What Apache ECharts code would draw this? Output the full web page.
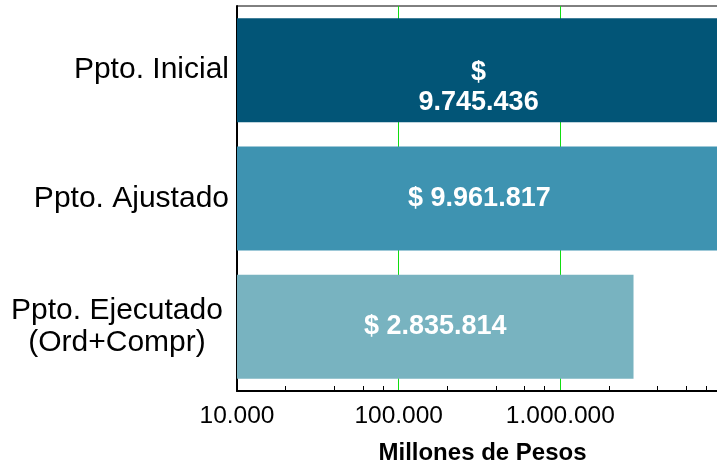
<!DOCTYPE html>
<html>
<head>
<meta charset="utf-8">
<script src="https://cdn.jsdelivr.net/npm/echarts@6/dist/echarts.min.js"></script>
<style>
html, body { margin: 0; padding: 0; background: #fff; }
#chart { width: 717px; height: 465px; }
</style>
</head>
<body>
<div id="chart"></div>
<script>
// presupuesto, en millones de pesos
const categories = ['Ppto. Inicial', 'Ppto. Ajustado', 'Ppto. Ejecutado\n(Ord+Compr)']
const values = [9745436, 9961817, 2835814]
const barColors = ['#025577', '#3e93b1', '#78b3c0']
const minorTicks = [2e4, 4e4, 6e4, 8e4, 2e5, 4e5, 6e5, 8e5, 2e6, 4e6, 6e6, 8e6]

const font = 'Liberation Sans, Arial, sans-serif'

function fmt(v) {
    return String(v).replace(/\B(?=(\d{3})+(?!\d))/g, '.')
}

let data = values.map(function (v, i) {
    let item = {
        value: v,
        itemStyle: { color: barColors[i] }
    }
    if (i === 0) {
        // en el original la etiqueta sale partida en dos lineas
        item.label = { formatter: '$\n' + fmt(v), offset: [0, 17] }
    }
    return item
})

let myChart = echarts.init(document.getElementById('chart'))
myChart.setOption({
    animation: false,
    grid: {
        left: 237,
        width: 485,
        top: 6,
        bottom: 74,
        outerBoundsMode: 'none',
        containLabel: false,
        show: true,
        borderColor: '#000',
        borderWidth: 1,
        backgroundColor: 'transparent'
    },
    xAxis: [{
        type: 'log',
        logBase: 10,
        min: 1e4,
        max: 1e7,
        position: 'bottom',
        name: 'Millones de Pesos',
        nameLocation: 'middle',
        nameGap: 50,
        nameTextStyle: {
            fontFamily: font, fontSize: 24, fontWeight: 'bold', color: '#000',
            padding: [0, 0, 0, 6]
        },
        axisLine: { show: true, lineStyle: { color: '#000', width: 2 } },
        axisTick: { show: false },
        axisLabel: {
            showMaxLabel: false,
            fontFamily: font,
            fontSize: 24.5,
            color: '#000',
            margin: 13,
            formatter: function (v) { return fmt(v) }
        },
        splitLine: { show: true, lineStyle: { color: '#11dd11', width: 1 } }
    }, {
        // solo para las marcas menores 2,4,6,8
        type: 'log',
        logBase: 10,
        min: 1e4,
        max: 1e7,
        position: 'bottom',
        offset: 0,
        axisLine: { show: false },
        axisLabel: { show: false },
        splitLine: { show: false },
        axisTick: {
            show: true,
            inside: true,
            length: 5,
            customValues: minorTicks,
            lineStyle: { color: '#000', width: 1 }
        }
    }],
    yAxis: {
        type: 'category',
        inverse: true,
        data: categories,
        axisLine: { show: true, lineStyle: { color: '#000', width: 2 } },
        axisTick: { show: false },
        axisLabel: {
            margin: 8,
            color: '#000',
            fontFamily: font,
            fontSize: 30,
            lineHeight: 32,
            formatter: function (v) {
                if (v.indexOf('\n') >= 0) {
                    return v.split('\n').map(function (s) { return '{c|' + s + '}' }).join('\n')
                }
                return v
            },
            rich: {
                c: { width: 224, align: 'center', fontFamily: font, fontSize: 30, lineHeight: 32, color: '#000' }
            }
        }
    },
    series: [{
        type: 'bar',
        xAxisIndex: 0,
        data: data,
        barCategoryGap: '19%',
        label: {
            show: true,
            position: 'inside',
            color: '#fff',
            fontFamily: font,
            fontSize: 27,
            fontWeight: 'bold',
            lineHeight: 30,
            formatter: function (p) { return '$ ' + fmt(p.value) }
        }
    }]
})
</script>
</body>
</html>
